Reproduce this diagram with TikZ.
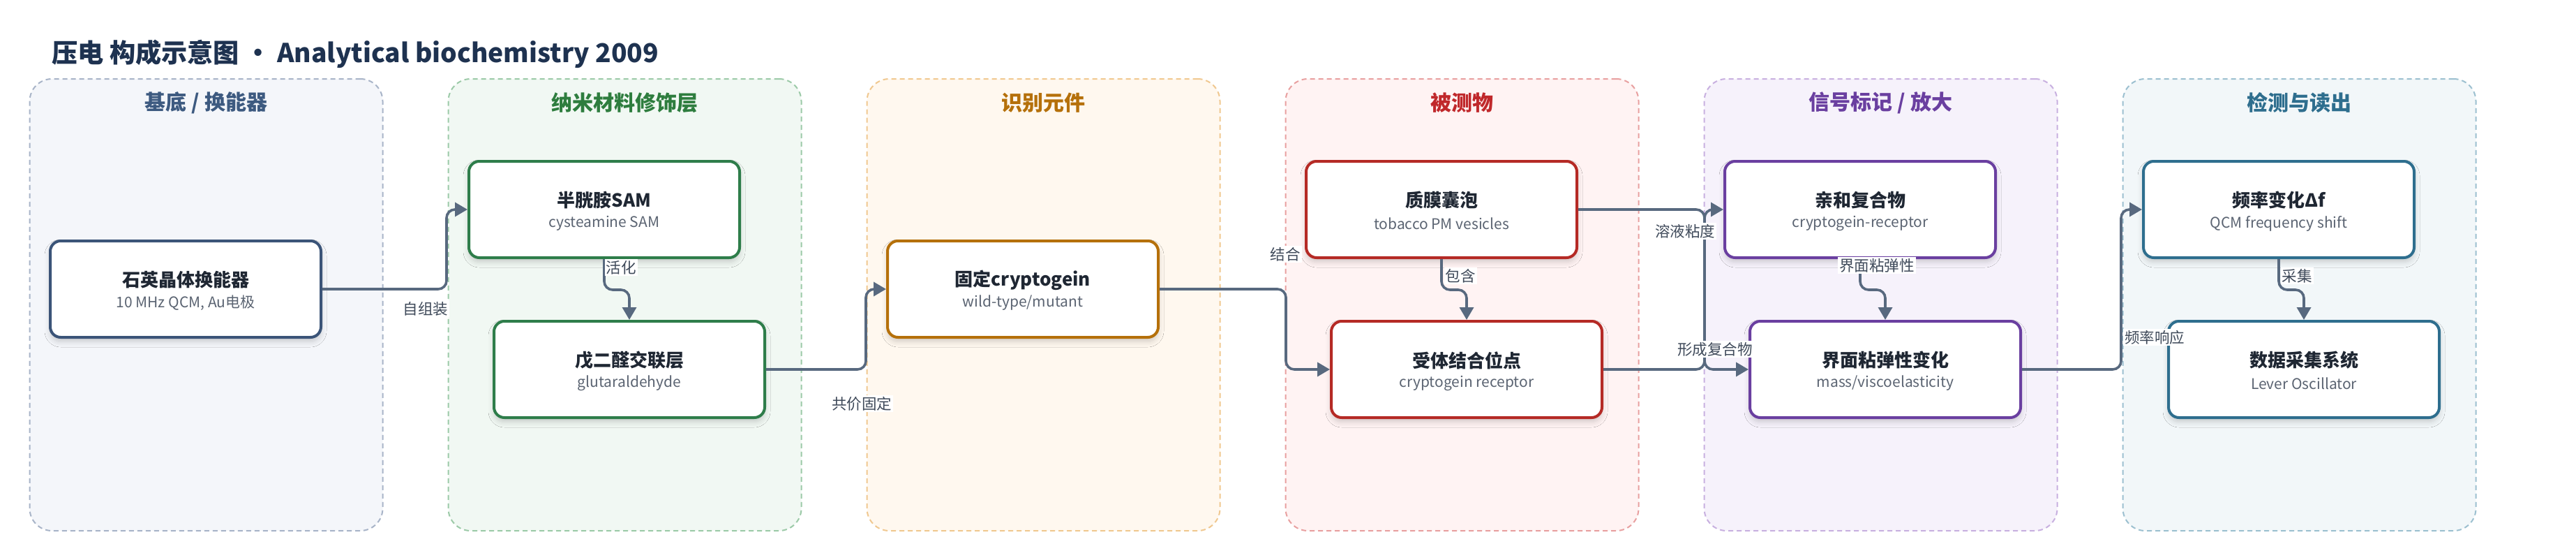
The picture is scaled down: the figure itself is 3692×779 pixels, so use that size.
\documentclass[tikz,border=0pt]{standalone}
\usepackage{fontspec}
\setmainfont{Noto Sans CJK SC}
\usetikzlibrary{arrows.meta,shadows.blur}
\definecolor{connc}{HTML}{58697F}
\definecolor{lblc}{HTML}{3F4A5A}
\definecolor{ttlc}{HTML}{1F2733}
\definecolor{subc}{HTML}{5B6472}
\definecolor{titlec}{HTML}{1E3250}
\definecolor{pAfill}{HTML}{F4F6FA}\definecolor{pAline}{HTML}{A8B4C8}\definecolor{pAhead}{HTML}{3D5A80}\definecolor{pAnode}{HTML}{3B5478}
\definecolor{pBfill}{HTML}{F1F8F3}\definecolor{pBline}{HTML}{9CCAA8}\definecolor{pBhead}{HTML}{2E7D3E}\definecolor{pBnode}{HTML}{2E7D4A}
\definecolor{pCfill}{HTML}{FFF8EF}\definecolor{pCline}{HTML}{F0C890}\definecolor{pChead}{HTML}{B5700A}\definecolor{pCnode}{HTML}{B5700A}
\definecolor{pDfill}{HTML}{FFF3F3}\definecolor{pDline}{HTML}{E8A0A0}\definecolor{pDhead}{HTML}{C0282B}\definecolor{pDnode}{HTML}{B52A25}
\definecolor{pEfill}{HTML}{F6F2FB}\definecolor{pEline}{HTML}{C8B0E0}\definecolor{pEhead}{HTML}{6A3FA0}\definecolor{pEnode}{HTML}{6A3FA0}
\definecolor{pFfill}{HTML}{F2F7F9}\definecolor{pFline}{HTML}{9CC0D0}\definecolor{pFhead}{HTML}{2E6E8E}\definecolor{pFnode}{HTML}{2E6E8E}
\tikzset{
  panel/.style={draw, line width=2pt, dash pattern=on 7pt off 5pt, rounded corners=32pt,
    minimum width=506pt, minimum height=647pt, inner sep=0pt},
  headtxt/.style={font=\fontsize{30}{34}\selectfont\bfseries, inner sep=0pt},
  procbox/.style={draw, line width=4pt, rounded corners=15pt, fill=white,
    minimum width=388pt, minimum height=138pt, inner sep=0pt,
    blur shadow={shadow xshift=0pt, shadow yshift=-6pt, shadow opacity=18, shadow blur radius=8pt}},
  ttl/.style={font=\fontsize{26}{30}\selectfont\bfseries, text=ttlc, inner sep=0pt},
  subt/.style={font=\fontsize{21}{25}\selectfont, text=subc, inner sep=0pt},
  conn/.style={draw=connc, line width=3.6pt, rounded corners=12pt,
    -{Triangle[length=18pt,width=20pt]}, fill=none},
  lbl/.style={font=\fontsize{21.5}{25}\selectfont, text=lblc, fill=white, inner sep=2pt}
}
\newcommand{\pnode}[6]{%
  \node[procbox, draw=#4] (#1) at (#2,#3) {};
  \node[ttl] (#1-t) at (#2,#3-13) {#5};
  \node[subt] (#1-s) at (#2,#3+20) {#6};
}
\begin{document}
\begin{tikzpicture}[x=1pt,y=-1pt]
\useasboundingbox (0,0) rectangle (3692,779);
\fill[white] (0,0) rectangle (3692,779);
% title
\node[anchor=west, font=\fontsize{37.2}{42}\selectfont\bfseries, text=titlec, inner sep=0pt] (title) at (74,77) {压电 构成示意图 • Analytical biochemistry 2009};
% panels
\node[panel, draw=pAline, fill=pAfill] (pa) at (295.5,436.5) {};
\node[panel, draw=pBline, fill=pBfill] (pb) at (895.5,436.5) {};
\node[panel, draw=pCline, fill=pCfill] (pc) at (1495.5,436.5) {};
\node[panel, draw=pDline, fill=pDfill] (pd) at (2095.5,436.5) {};
\node[panel, draw=pEline, fill=pEfill] (pe) at (2695.5,436.5) {};
\node[panel, draw=pFline, fill=pFfill] (pf) at (3295.5,436.5) {};
\node[headtxt, text=pAhead] (ha) at (295.5,147) {基底 / 换能器};
\node[headtxt, text=pBhead] (hb) at (895.5,147) {纳米材料修饰层};
\node[headtxt, text=pChead] (hc) at (1495.5,147) {识别元件};
\node[headtxt, text=pDhead] (hd) at (2095.5,147) {被测物};
\node[headtxt, text=pEhead] (he) at (2695.5,147) {信号标记 / 放大};
\node[headtxt, text=pFhead] (hf) at (3295.5,147) {检测与读出};
% process nodes
\pnode{n1}{266}{414}{pAnode}{石英晶体换能器}{10 MHz QCM, Au电极}
\pnode{n2}{866}{300}{pBnode}{半胱胺SAM}{cysteamine SAM}
\pnode{n3}{902}{529}{pBnode}{戊二醛交联层}{glutaraldehyde}
\pnode{n4}{1466}{414}{pCnode}{固定cryptogein}{wild-type/mutant}
\pnode{n5}{2066}{300}{pDnode}{质膜囊泡}{tobacco PM vesicles}
\pnode{n6}{2102}{529}{pDnode}{受体结合位点}{cryptogein receptor}
\pnode{n7}{2666}{300}{pEnode}{亲和复合物}{cryptogein-receptor}
\pnode{n8}{2702}{529}{pEnode}{界面粘弹性变化}{mass/viscoelasticity}
\pnode{n9}{3266}{300}{pFnode}{频率变化Δf}{QCM frequency shift}
\pnode{n10}{3302}{529}{pFnode}{数据采集系统}{Lever Oscillator}
% connectors
\draw[conn] (n1.east) -| ([xshift=-30pt]n2.west) -- (n2.west);
\draw[conn] (n2.south) -- ++(0,44) -| (n3.north);
\draw[conn] (n3.east) -| ([xshift=-29pt]n4.west) -- (n4.west);
\draw[conn] (n4.east) -| ([xshift=-63pt]n6.west) -- (n6.west);
\draw[conn] (n5.south) -- ++(0,44) -| (n6.north);
\draw[conn] (n5.east) -| ([xshift=-63pt]n8.west) -- (n8.west);
\draw[conn] (n6.east) -| ([xshift=-27pt]n7.west) -- (n7.west);
\draw[conn] (n7.south) -- ++(0,44) -| (n8.north);
\draw[conn] (n8.east) -| ([xshift=-30pt]n9.west) -- (n9.west);
\draw[conn] (n9.south) -- ++(0,44) -| (n10.north);
% labels
\node[lbl] (l1) at (610,442) {自组装};
\node[lbl] (l2) at (890,383) {活化};
\node[lbl] (l3) at (1235,578) {共价固定};
\node[lbl] (l4) at (1842,364) {结合};
\node[lbl] (l5) at (2093,395) {包含};
\node[lbl] (l6) at (2415,331) {溶液粘度};
\node[lbl] (l7) at (2458,500) {形成复合物};
\node[lbl] (l8) at (2690,380) {界面粘弹性};
\node[lbl] (l9) at (3088,483) {频率响应};
\node[lbl] (l10) at (3292,395) {采集};
\end{tikzpicture}
\end{document}
